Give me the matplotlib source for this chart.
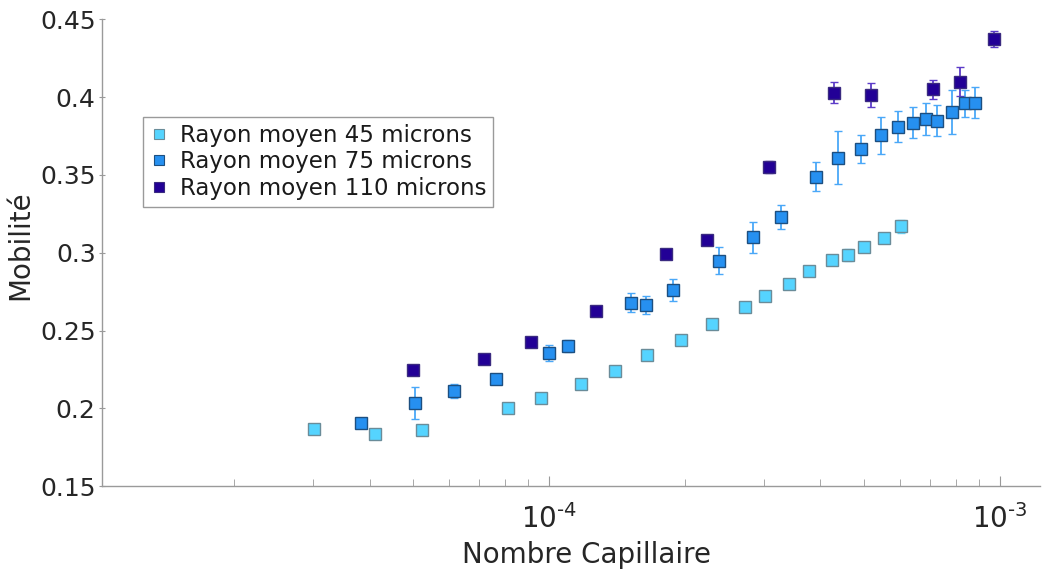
import numpy as np
import matplotlib
matplotlib.use("Agg")
import matplotlib.pyplot as plt
from matplotlib.lines import Line2D
from matplotlib.ticker import LogLocator, NullFormatter

# Rayon moyen 45 microns
ca_45 = [3.02e-5, 4.11e-5, 5.24e-5, 8.1e-5, 9.6e-5, 1.18e-4, 1.40e-4, 1.65e-4, 1.96e-4,
         2.30e-4, 2.72e-4, 3.02e-4, 3.40e-4, 3.77e-4, 4.25e-4, 4.61e-4, 5.0e-4, 5.54e-4, 6.04e-4]
mob_45 = [0.187, 0.1835, 0.186, 0.2, 0.2065, 0.2155, 0.224, 0.234, 0.244,
          0.2545, 0.265, 0.272, 0.28, 0.288, 0.2955, 0.2985, 0.304, 0.3095, 0.317]
err_45 = [0.002, 0.001, 0.001, 0.001, 0.001, 0.001, 0.001, 0.001, 0.001,
          0.001, 0.001, 0.001, 0.001, 0.001, 0.0015, 0.004, 0.002, 0.002, 0.004]

# Rayon moyen 75 microns
ca_75 = [3.83e-5, 5.05e-5, 6.16e-5, 7.65e-5, 1.0e-4, 1.10e-4, 1.52e-4, 1.64e-4, 1.88e-4,
         2.38e-4, 2.83e-4, 3.28e-4, 3.91e-4, 4.38e-4, 4.92e-4, 5.46e-4, 5.95e-4, 6.43e-4,
         6.87e-4, 7.27e-4, 7.82e-4, 8.36e-4, 8.8e-4]
mob_75 = [0.1905, 0.2035, 0.211, 0.219, 0.2355, 0.2400, 0.268, 0.2665, 0.276,
          0.295, 0.31, 0.323, 0.349, 0.361, 0.367, 0.3755, 0.381, 0.3835,
          0.386, 0.385, 0.3905, 0.396, 0.3965]
err_75 = [0.003, 0.010, 0.0045, 0.003, 0.005, 0.004, 0.006, 0.006, 0.007,
          0.0085, 0.010, 0.008, 0.0095, 0.017, 0.009, 0.012, 0.010, 0.010,
          0.010, 0.010, 0.014, 0.0085, 0.010]

# Rayon moyen 110 microns
ca_110 = [5.0e-5, 7.19e-5, 9.12e-5, 1.27e-4, 1.82e-4, 2.24e-4, 3.07e-4, 4.29e-4,
          5.18e-4, 7.13e-4, 8.15e-4, 9.71e-4]
mob_110 = [0.2245, 0.232, 0.2425, 0.2625, 0.299, 0.3085, 0.355, 0.403,
           0.4015, 0.405, 0.41, 0.4375]
err_110 = [0.003, 0.002, 0.002, 0.002, 0.002, 0.002, 0.004, 0.0065,
           0.0075, 0.006, 0.0095, 0.005]

labels = ["Rayon moyen 45 microns", "Rayon moyen 75 microns", "Rayon moyen 110 microns"]
yticks = [0.15, 0.2, 0.25, 0.3, 0.35, 0.4, 0.45]
ytick_labels = ["0.15", "0.2", "0.25", "0.3", "0.35", "0.4", "0.45"]
xticks = [1e-4, 1e-3]
xtick_labels = ["10$^{\\text{-}4}$", "10$^{\\text{-}3}$"]

colors = ["#55d4ff", "#2690f0", "#220096"]
edges = ["#6a8c99", "#1d4f80", "#3a2a80"]
errcolors = ["#66d8ff", "#4aa8f8", "#5c3cc8"]

fig = plt.figure(figsize=(10.46, 5.70), dpi=100)
ax = fig.add_axes([0.0975, 0.147, 0.897, 0.819])

series = [(ca_45, mob_45, err_45), (ca_75, mob_75, err_75), (ca_110, mob_110, err_110)]
handles = []
for (x, y, e), c, ec, erc, lab in zip(series, colors, edges, errcolors, labels):
    ax.errorbar(x, y, yerr=e, fmt='s', color=c, markerfacecolor=c,
                markeredgecolor=ec, markeredgewidth=1.0, markersize=8,
                ecolor=erc, elinewidth=1.3, capsize=3.2, capthick=1.3,
                label=lab)
    handles.append(Line2D([], [], linestyle='none', marker='s', markersize=7,
                          markerfacecolor=c, markeredgecolor=ec, markeredgewidth=0.8))

ax.set_xscale('log')
ax.set_xlim(1.02e-5, 1.23e-3)
ax.set_ylim(0.15, 0.45)
ax.set_xticks(xticks)
ax.set_xticklabels(xtick_labels)
ax.xaxis.set_minor_locator(LogLocator(base=10, subs=np.arange(2, 10)))
ax.xaxis.set_minor_formatter(NullFormatter())
ax.set_yticks(yticks)
ax.set_yticklabels(ytick_labels)

for s in ['top', 'right']:
    ax.spines[s].set_visible(False)
for s in ['left', 'bottom']:
    ax.spines[s].set_color('#9a9a9a')
    ax.spines[s].set_linewidth(1.0)

ax.tick_params(axis='x', which='major', direction='in', length=7, color='#9a9a9a',
               labelsize=20, labelcolor='#262626', pad=13)
ax.tick_params(axis='x', which='minor', direction='in', length=5, color='#9a9a9a')
ax.tick_params(axis='y', direction='inout', length=5, color='#9a9a9a',
               labelsize=18, labelcolor='#262626', pad=2)

ax.set_xlabel("Nombre Capillaire", fontsize=20, color='#262626')
ax.set_ylabel("Mobilité", fontsize=20, color='#262626')
ax.xaxis.set_label_coords(0.516, -0.118)
ax.yaxis.set_label_coords(-0.072, 0.517)

leg = ax.legend(handles, labels, loc='upper left', bbox_to_anchor=(0.0437, 0.791),
                borderaxespad=0, fancybox=False, framealpha=1, edgecolor='#9a9a9a',
                fontsize=16.5, handlelength=0.8, handletextpad=0.5,
                labelspacing=0.15, borderpad=0.3)
leg.get_frame().set_linewidth(1.0)
for t in leg.get_texts():
    t.set_color('#1a1a1a')

fig.savefig("out.png", dpi=100)
